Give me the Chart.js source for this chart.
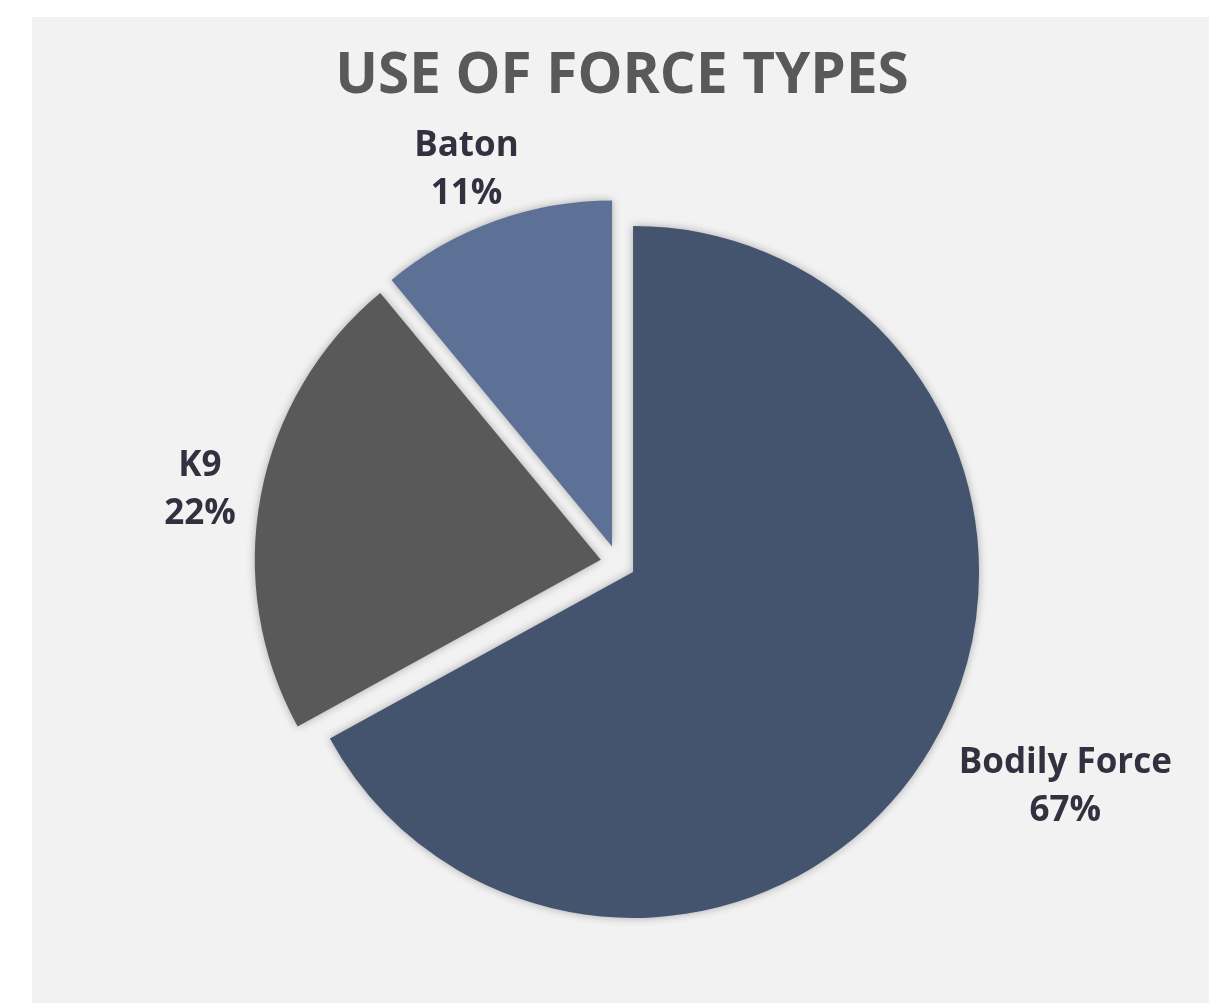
<!DOCTYPE html>
<html>
<head>
<meta charset="utf-8">
<script src="https://cdn.jsdelivr.net/npm/chart.js@4"></script>
<style>
  html, body { margin: 0; padding: 0; background: #ffffff; }
  body { width: 1226px; height: 1003px; position: relative; overflow: hidden; }
  #panel { position: absolute; left: 32px; top: 17px; width: 1177px; height: 986px; background: #f2f2f2; }
  #title { position: absolute; left: 33.5px; top: 37.5px; width: 1177px; text-align: center;
           font: bold 56.6px/68px 'Open Sans', sans-serif; color: #595959; margin: 0; }
  canvas { position: absolute; left: 0; top: 0; }
</style>
</head>
<body>
<div id="panel"><canvas id="forceChart" width="1177" height="986"></canvas></div>
<div id="title">USE OF FORCE TYPES</div>
<script>
const categories = ["Bodily Force", "K9", "Baton"];
const shares = [67, 22, 11];
const sliceColors = ["#44546f", "#595959", "#5d7196"];

// every slice is pulled out from the centre by the same distance (px)
const explode = 17.5;
const pieRadius = 346;

const ctx = document.getElementById("forceChart").getContext("2d");

// move each arc out along its bisector before it is drawn
const explodePlugin = {
    id: "explodeSlices",
    afterUpdate(chart) {
        chart.getDatasetMeta(0).data.forEach(arc => {
            if (arc._exploded) return;
            const baseDraw = arc.draw;
            arc.draw = function (c, area) {
                const mid = (this.startAngle + this.endAngle) / 2;
                c.save();
                c.translate(Math.cos(mid) * explode, Math.sin(mid) * explode);
                baseDraw.call(this, c, area);
                c.restore();
            };
            arc._exploded = true;
        });
    }
};

// soft shadow under the slices
const shadowPlugin = {
    id: "sliceShadow",
    beforeDatasetsDraw(chart) {
        chart.ctx.save();
        chart.ctx.shadowColor = "rgba(0,0,0,0.3)";
        chart.ctx.shadowBlur = 9;
    },
    afterDatasetsDraw(chart) {
        chart.ctx.restore();
    }
};

// two-line labels outside each slice
const outsideLabels = {
    id: "outsideLabels",
    afterDatasetsDraw(chart) {
        const c = chart.ctx;
        const meta = chart.getDatasetMeta(0);
        c.save();
        c.font = "bold 35px 'Open Sans'";
        c.fillStyle = "#33313f";
        c.textAlign = "center";
        c.textBaseline = "middle";
        meta.data.forEach((arc, i) => {
            const p = arc.getProps(["x", "y", "startAngle", "endAngle", "outerRadius"], true);
            const mid = (p.startAngle + p.endAngle) / 2;
            const dx = Math.cos(mid), dy = Math.sin(mid);
            const d0 = p.outerRadius + 32;
            const lines = [categories[i], shares[i] + "%"];
            const w = Math.max(...lines.map(t => c.measureText(t).width));
            const h = 95;
            const cx = p.x + dx * d0 + dx * w / 2 * 1.33;
            const cy = p.y + dy * d0 + dy * h / 2 + 7; // +7: glyph centring of the font
            c.fillText(lines[0], cx, cy - 24);
            c.fillText(lines[1], cx, cy + 24);
        });
        c.restore();
    }
};

new Chart(ctx, {
    type: "pie",
    data: {
        labels: categories,
        datasets: [{
            data: shares,
            backgroundColor: sliceColors,
            borderWidth: 0
        }]
    },
    options: {
        responsive: false,
        animation: false,
        radius: pieRadius,
        layout: { padding: { top: 186, bottom: 80, left: 226, right: 231 } },
        plugins: {
            legend: { display: false },
            tooltip: { enabled: false },
            title: { display: false }
        }
    },
    plugins: [explodePlugin, shadowPlugin, outsideLabels]
});
</script>
</body>
</html>
